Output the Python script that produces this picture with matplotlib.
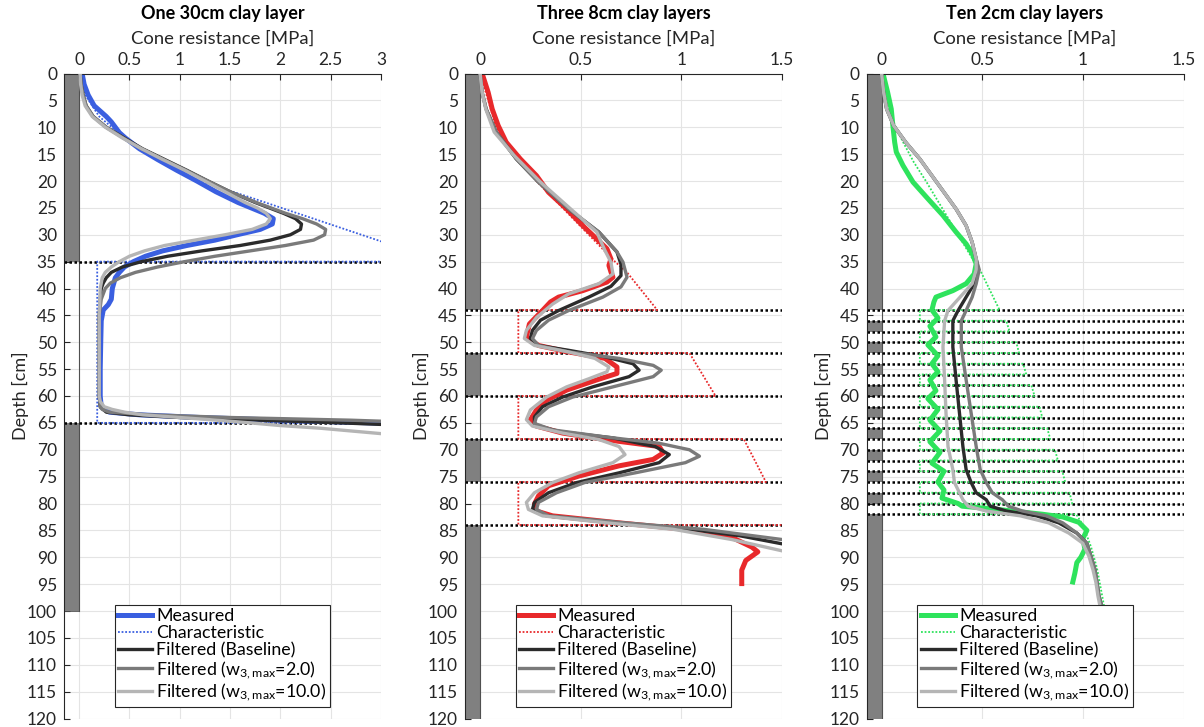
import matplotlib
matplotlib.use('Agg')
import matplotlib.pyplot as plt
from matplotlib.patches import Rectangle

plt.rcParams['font.family'] = ['Lato', 'DejaVu Sans']
plt.rcParams['mathtext.fontset'] = 'custom'
plt.rcParams['mathtext.rm'] = 'Lato'

# ---------------- data ----------------
TITLES = ['One 30cm clay layer', 'Three 8cm clay layers', 'Ten 2cm clay layers']
XLABEL = 'Cone resistance [MPa]'
YLABEL = 'Depth [cm]'
LEGEND_LABELS = ['Measured', 'Characteristic', 'Filtered (Baseline)',
                 r'Filtered ($\mathregular{w_{3,max}}$=2.0)',
                 r'Filtered ($\mathregular{w_{3,max}}$=10.0)']
DEPTH_TICKS = list(range(0, 121, 5))

# panel 1: one 30 cm clay layer
A_XTICKS = [0, 0.5, 1, 1.5, 2, 2.5, 3]
A_XTICKLABELS = ['0', '0.5', '1', '1.5', '2', '2.5', '3']
A_SAND = [(0, 35), (65, 100)]
A_COLUMN_BOTTOM = 100
A_BOUNDS = [35, 65]
A_MEAS_D = [0, 2, 4, 6, 8, 9, 10, 11, 12, 14, 16, 18, 20, 22, 24, 25, 26, 27, 28, 29, 30, 31, 32, 33,
            34, 35, 36, 37, 38, 40, 42, 43, 44, 46, 50, 55, 60, 62, 63, 63.5, 64, 64.5, 65, 65.5]
A_MEAS_Q = [0.03, 0.05, 0.09, 0.15, 0.27, 0.32, 0.36, 0.4, 0.46, 0.6, 0.78, 0.97, 1.17, 1.36, 1.58, 1.71,
            1.84, 1.93, 1.92, 1.8, 1.57, 1.35, 1.07, 0.83, 0.66, 0.54, 0.45, 0.4, 0.36, 0.33, 0.32, 0.29,
            0.24, 0.22, 0.215, 0.21, 0.21, 0.22, 0.3, 0.6, 1.2, 2.0, 2.9, 3.5]
A_CHAR_D = [0, 4, 8, 12, 16, 20, 23.3, 35, 35, 65, 65]
A_CHAR_Q = [0.02, 0.06, 0.2, 0.45, 0.8, 1.2, 1.74, 3.6, 0.18, 0.18, 3.6]
A_BASE_D = [0, 2, 4, 6, 8, 10, 12, 14, 16, 18, 20, 22, 24, 26, 27, 28, 29, 30, 31, 32, 33, 34, 35, 36,
            37, 38, 39, 40, 42, 45, 50, 55, 60, 62, 63, 63.5, 64, 64.5, 65, 65.5]
A_BASE_Q = [0.01, 0.02, 0.04, 0.07, 0.14, 0.27, 0.45, 0.63, 0.85, 1.07, 1.28, 1.5, 1.75, 2.03, 2.15,
            2.21, 2.2, 2.1, 1.9, 1.6, 1.22, 0.88, 0.62, 0.43, 0.32, 0.27, 0.24, 0.22, 0.21, 0.2, 0.2,
            0.2, 0.2, 0.21, 0.27, 0.5, 1.0, 1.8, 2.6, 3.3]
A_W2_D = [0, 2, 4, 6, 8, 10, 12, 14, 16, 18, 20, 22, 24, 26, 27, 28, 29, 30, 31, 32, 33, 34, 35, 36,
          37, 38, 39, 40, 42, 45, 50, 55, 60, 62, 62.5, 63, 63.5, 64, 64.5, 65]
A_W2_Q = [0.01, 0.02, 0.04, 0.07, 0.14, 0.27, 0.44, 0.62, 0.84, 1.06, 1.28, 1.5, 1.76, 2.05, 2.22,
          2.36, 2.45, 2.44, 2.33, 2.05, 1.7, 1.35, 1.05, 0.78, 0.56, 0.41, 0.31, 0.26, 0.22, 0.2,
          0.2, 0.2, 0.2, 0.21, 0.23, 0.3, 0.7, 1.5, 2.7, 3.5]
A_W10_D = [0, 2, 4, 6, 8, 10, 12, 14, 16, 18, 20, 22, 24, 25, 26, 27, 28, 29, 30, 31, 32, 33, 34, 35,
           36, 37, 38, 40, 45, 50, 55, 60, 61, 62, 62.5, 63, 63.5, 64, 64.5, 65, 65.5, 66, 66.5, 67, 67.5]
A_W10_Q = [0.01, 0.015, 0.03, 0.06, 0.13, 0.26, 0.43, 0.62, 0.83, 1.05, 1.25, 1.45, 1.65, 1.77, 1.86,
           1.9, 1.86, 1.72, 1.45, 1.15, 0.85, 0.65, 0.5, 0.4, 0.32, 0.26, 0.23, 0.21, 0.2, 0.2, 0.2,
           0.2, 0.21, 0.25, 0.33, 0.45, 0.63, 1.0, 1.37, 1.7, 2.0, 2.4, 2.7, 3.0, 3.3]

# panel 2: three 8 cm clay layers
B_XTICKS = [0, 0.5, 1, 1.5]
B_XTICKLABELS = ['0', '0.5', '1', '1.5']
B_SAND = [(0, 44), (52, 60), (68, 76), (84, 120)]
B_COLUMN_BOTTOM = 120
B_BOUNDS = [44, 52, 60, 68, 76, 84]
B_MEAS_D = [0, 3.5, 6.6, 9.7, 12.8, 15.9, 19, 22.1, 25.2, 28.3, 30.8, 32.6, 34.5, 35.7, 36.9, 37.9, 38.8,
            40.4, 41.6, 42.5, 44.1, 46.6, 49, 50.6, 51.8, 53, 54.6, 55.8, 57, 58.9, 60.8, 62.6, 64.4,
            65.6, 66.9, 68.1, 69.4, 70.6, 71.8, 73, 74.9, 76.7, 78.6, 80.1, 81.4, 82.3, 83.6, 84.8,
            86.3, 88.1, 89, 90.6, 92.4, 94.9]
B_MEAS_Q = [0.01, 0.04, 0.06, 0.09, 0.13, 0.2, 0.28, 0.34, 0.43, 0.51, 0.58, 0.63, 0.65, 0.64, 0.65,
            0.66, 0.63, 0.51, 0.39, 0.35, 0.31, 0.245, 0.23, 0.29, 0.44, 0.62, 0.68, 0.68, 0.58, 0.43,
            0.33, 0.28, 0.25, 0.28, 0.41, 0.62, 0.89, 0.91, 0.86, 0.69, 0.49, 0.34, 0.29, 0.27, 0.28,
            0.36, 0.69, 1.02, 1.25, 1.35, 1.38, 1.32, 1.30, 1.30]
B_CHAR_D = [0, 10, 15, 20, 25, 30, 35, 37, 44, 44, 52, 52, 60, 60, 68, 68, 76, 76, 84, 84, 100]
B_CHAR_Q = [0.0, 0.08, 0.17, 0.28, 0.41, 0.54, 0.67, 0.73, 0.88, 0.19, 0.19, 1.04, 1.17, 0.19, 0.19,
            1.31, 1.42, 0.19, 0.19, 1.6, 1.8]
B_BASE_D = [0, 3.5, 6.6, 10.9, 15.9, 20.2, 25.2, 29.5, 33.2, 35.5, 37.6, 39.6, 41.6, 44.1, 45.9, 47.8,
            49.3, 50.6, 51.5, 52.7, 54.0, 55.2, 56.4, 58.3, 60.2, 62.0, 63.9, 65.4, 66.6, 67.8, 69.4,
            70.9, 72.4, 74.3, 76.1, 78.0, 79.8, 81.1, 82.3, 83.6, 84.8, 86.0, 87.5, 88.5]
B_BASE_Q = [0.0, 0.01, 0.03, 0.08, 0.18, 0.29, 0.44, 0.59, 0.68, 0.70, 0.70, 0.65, 0.54, 0.39, 0.30,
            0.26, 0.25, 0.29, 0.44, 0.62, 0.76, 0.79, 0.74, 0.56, 0.41, 0.31, 0.27, 0.27, 0.39, 0.66,
            0.87, 0.94, 0.89, 0.69, 0.48, 0.34, 0.27, 0.26, 0.33, 0.69, 1.04, 1.29, 1.5, 1.62]
B_W2_D = [0, 3.5, 6.6, 10.9, 15.9, 20.2, 25.2, 29.5, 33.2, 35.1, 37.9, 39.7, 41.6, 44.1, 45.9, 47.8,
          49.3, 50.6, 51.8, 53.0, 54.3, 55.2, 56.4, 58.3, 60.2, 62.0, 63.9, 65.1, 66.3, 67.6, 68.8,
          70.0, 71.2, 72.4, 74.3, 76.1, 78.0, 79.8, 81.1, 82.3, 83.6, 84.8, 86.7, 88]
B_W2_Q = [0.0, 0.01, 0.03, 0.08, 0.18, 0.29, 0.44, 0.59, 0.68, 0.71, 0.73, 0.70, 0.61, 0.44, 0.34,
          0.28, 0.26, 0.29, 0.44, 0.69, 0.86, 0.90, 0.86, 0.66, 0.46, 0.34, 0.28, 0.27, 0.36, 0.62,
          0.89, 1.04, 1.09, 1.02, 0.77, 0.52, 0.38, 0.29, 0.28, 0.34, 0.72, 1.11, 1.5, 1.65]
B_W10_D = [0, 3.5, 6.6, 10.9, 15.3, 20.2, 25.2, 29.5, 32.9, 35.1, 37.3, 39.1, 41.0, 42.9, 45.4, 47.8,
           49.3, 50.6, 51.8, 53.0, 54.6, 55.5, 56.8, 58.3, 60.2, 62.6, 64.4, 65.6, 66.9, 68.1, 69.4,
           70.9, 72.4, 74.3, 76.1, 78.0, 79.8, 81.1, 82.3, 83.6, 84.8, 86.7, 88.8, 90]
B_W10_Q = [0.0, 0.01, 0.028, 0.07, 0.17, 0.30, 0.45, 0.58, 0.62, 0.65, 0.66, 0.59, 0.44, 0.36, 0.28,
           0.23, 0.22, 0.27, 0.44, 0.57, 0.64, 0.63, 0.54, 0.43, 0.33, 0.25, 0.23, 0.26, 0.41, 0.59,
           0.69, 0.72, 0.66, 0.49, 0.36, 0.27, 0.23, 0.24, 0.31, 0.63, 0.96, 1.25, 1.5, 1.6]

# panel 3: ten 2 cm clay layers
C_XTICKS = [0, 0.5, 1, 1.5]
C_XTICKLABELS = ['0', '0.5', '1', '1.5']
C_SAND = [(0, 44), (46, 48), (50, 52), (54, 56), (58, 60), (62, 64), (66, 68), (70, 72), (74, 76),
          (78, 80), (82, 120)]
C_COLUMN_BOTTOM = 120
C_BOUNDS = [44, 46, 48, 50, 52, 54, 56, 58, 60, 62, 64, 66, 68, 70, 72, 74, 76, 78, 80, 82]
C_MEAS_D = [0, 3.5, 6.6, 9.7, 12.8, 14.6, 17.1, 20.2, 23.3, 26.4, 29.5, 31.7, 33.5, 35.4, 37.3, 39.1,
            40.4, 41.6, 42.5, 44, 45.5, 47, 49, 50.5, 52.5, 54, 55.5, 57, 59, 60.5, 62.5, 64.5, 66.5,
            68.5, 70.5, 72.5, 74, 76, 77.5, 79, 80, 80.5, 81, 82, 82.5, 83.5, 85, 86.5, 88.5, 90, 91,
            93, 94.6]
C_MEAS_Q = [0.007, 0.03, 0.048, 0.056, 0.065, 0.073, 0.106, 0.156, 0.23, 0.305, 0.37, 0.42, 0.45, 0.47,
            0.46, 0.42, 0.354, 0.27, 0.26, 0.25, 0.28, 0.24, 0.27, 0.23, 0.28, 0.25, 0.28, 0.24, 0.27,
            0.23, 0.28, 0.24, 0.29, 0.24, 0.29, 0.25, 0.31, 0.28, 0.31, 0.30, 0.38, 0.4, 0.55, 0.8,
            0.9, 0.98, 1.02, 1.0, 1.01, 0.99, 0.97, 0.96, 0.95]
C_CHAR_D = [0, 3, 6, 10, 13, 16.5, 20, 25, 30, 35, 37, 44, 44, 46, 46, 48, 48, 50, 50, 52, 52, 54, 54,
            56, 56, 58, 58, 60, 60, 62, 62, 64, 64, 66, 66, 68, 68, 70, 70, 72, 72, 74, 74, 76, 76, 78,
            78, 80, 80, 82, 82, 84, 88, 92, 96, 100]
C_CHAR_Q = [0.0, 0.01, 0.03, 0.07, 0.11, 0.16, 0.22, 0.30, 0.38, 0.46, 0.495, 0.586, 0.19, 0.19, 0.619,
            0.636, 0.19, 0.19, 0.669, 0.683, 0.19, 0.19, 0.703, 0.719, 0.19, 0.19, 0.744, 0.76, 0.19,
            0.19, 0.785, 0.798, 0.19, 0.19, 0.823, 0.838, 0.19, 0.19, 0.861, 0.876, 0.19, 0.19, 0.898,
            0.912, 0.19, 0.19, 0.934, 0.947, 0.19, 0.19, 0.967, 1.0, 1.04, 1.07, 1.09, 1.11]
C_BASE_D = [0, 3.5, 6.6, 9.7, 12.8, 15.9, 19.0, 22.1, 25.2, 28.3, 31.4, 34.5, 36.5, 39.1, 41.6, 44.1,
            46.0, 50.9, 57.0, 63.2, 69.4, 73.7, 76.1, 78.0, 79.3, 80.5, 81.4, 82.3, 83.6, 85.5, 87.4,
            89.8, 92.3, 94.7, 97.2, 100]
C_BASE_Q = [0.0, 0.01, 0.025, 0.06, 0.12, 0.19, 0.25, 0.31, 0.37, 0.42, 0.45, 0.47, 0.48, 0.46, 0.42,
            0.38, 0.354, 0.354, 0.37, 0.387, 0.404, 0.42, 0.445, 0.47, 0.52, 0.54, 0.62, 0.77, 0.88,
            0.97, 1.02, 1.04, 1.06, 1.07, 1.08, 1.1]
C_W2_D = [0, 3.5, 6.6, 9.7, 12.8, 15.9, 19.0, 22.1, 25.2, 28.3, 31.4, 34.5, 36.5, 39.1, 41.6, 44.1,
          46.0, 50.9, 57.0, 63.2, 69.4, 73.7, 76.1, 78.0, 79.3, 80.5, 81.4, 82.3, 83.6, 85.5, 87.4,
          89.8, 92.3, 94.7, 97.2, 100]
C_W2_Q = [0.0, 0.01, 0.025, 0.06, 0.12, 0.19, 0.25, 0.31, 0.37, 0.42, 0.45, 0.47, 0.485, 0.47, 0.45,
          0.42, 0.396, 0.396, 0.42, 0.445, 0.47, 0.49, 0.52, 0.55, 0.6, 0.63, 0.70, 0.82, 0.90, 0.97,
          1.02, 1.04, 1.06, 1.07, 1.08, 1.1]
C_W10_D = [0, 3.5, 6.6, 9.7, 12.8, 15.9, 19.0, 22.1, 25.2, 28.3, 31.4, 34.5, 36.5, 39.1, 41.6, 44.1,
           46.0, 50.9, 57.0, 63.2, 69.4, 73.7, 76.1, 78.0, 79.3, 80.5, 81.4, 82.3, 83.6, 85.5, 87.4,
           89.8, 92.3, 94.7, 97.2, 100]
C_W10_Q = [0.0, 0.01, 0.025, 0.06, 0.12, 0.19, 0.25, 0.31, 0.37, 0.42, 0.45, 0.47, 0.47, 0.45, 0.39,
           0.33, 0.313, 0.305, 0.313, 0.32, 0.33, 0.354, 0.362, 0.387, 0.404, 0.43, 0.52, 0.69, 0.83,
           0.93, 1.0, 1.03, 1.05, 1.065, 1.075, 1.09]

# ---------------- styling ----------------
MEAS_COLORS = ['#3a5fe0', '#e8292b', '#2ee35c']
BASE_COLOR = '#2b2b2b'
W2_COLOR = '#7a7a7a'
W10_COLOR = '#b5b5b5'
SAND_COLOR = '#808080'
TEXT_COLOR = '#262626'

panels = [
    dict(title=TITLES[0], xlim=(-0.15, 3.0), xticks=A_XTICKS, xtl=A_XTICKLABELS, sand=A_SAND,
         colbot=A_COLUMN_BOTTOM, bounds=A_BOUNDS, meas=(A_MEAS_D, A_MEAS_Q), char=(A_CHAR_D, A_CHAR_Q),
         base=(A_BASE_D, A_BASE_Q), w2=(A_W2_D, A_W2_Q), w10=(A_W10_D, A_W10_Q), left=64),
    dict(title=TITLES[1], xlim=(-0.075, 1.5), xticks=B_XTICKS, xtl=B_XTICKLABELS, sand=B_SAND,
         colbot=B_COLUMN_BOTTOM, bounds=B_BOUNDS, meas=(B_MEAS_D, B_MEAS_Q), char=(B_CHAR_D, B_CHAR_Q),
         base=(B_BASE_D, B_BASE_Q), w2=(B_W2_D, B_W2_Q), w10=(B_W10_D, B_W10_Q), left=465),
    dict(title=TITLES[2], xlim=(-0.075, 1.5), xticks=C_XTICKS, xtl=C_XTICKLABELS, sand=C_SAND,
         colbot=C_COLUMN_BOTTOM, bounds=C_BOUNDS, meas=(C_MEAS_D, C_MEAS_Q), char=(C_CHAR_D, C_CHAR_Q),
         base=(C_BASE_D, C_BASE_Q), w2=(C_W2_D, C_W2_Q), w10=(C_W10_D, C_W10_Q), left=866.5),
]

W, H = 1204, 727
AX_TOP = 73.5
AX_H = 645
fig = plt.figure(figsize=(W / 100, H / 100), dpi=100)

for i, p in enumerate(panels):
    ax = fig.add_axes([p['left'] / W, 1 - (AX_TOP + AX_H) / H, 317 / W, AX_H / H])
    x0, x1 = p['xlim']
    ax.set_xlim(x0, x1)
    ax.set_ylim(120, 0)
    ax.xaxis.tick_top()
    ax.set_xticks(p['xticks'])
    ax.set_xticklabels(p['xtl'])
    ax.set_yticks(DEPTH_TICKS)
    ax.grid(True, color='#e4e4e4', lw=0.8)
    ax.set_axisbelow(True)
    ax.tick_params(direction='in', length=4, width=0.8, colors=TEXT_COLOR, labelsize=12.5)
    ax.tick_params(axis='x', pad=4)
    ax.tick_params(axis='y', pad=5)
    for s in ['right', 'bottom']:
        ax.spines[s].set_visible(False)
    for s in ['top', 'left']:
        ax.spines[s].set_color(TEXT_COLOR)
        ax.spines[s].set_linewidth(0.8)

    # soil column
    for (a, b) in p['sand']:
        ax.add_patch(Rectangle((x0, a), -x0, b - a, facecolor=SAND_COLOR, edgecolor='none',
                               zorder=1.5, clip_on=False))
    ax.plot([0, 0], [0, p['colbot']], color='#505050', lw=0.8, zorder=1.6)
    ax.plot([x0, 0], [p['colbot'], p['colbot']], color='#505050', lw=0.6, zorder=1.6)

    # layer boundaries
    for b in p['bounds']:
        ax.plot([x0, x1], [b, b], color='black', lw=1.8, ls=(0, (1, 1)), zorder=2.0)

    c = MEAS_COLORS[i]
    hm, = ax.plot(p['meas'][1], p['meas'][0], color=c, lw=3.6, zorder=2.4, solid_joinstyle='round')
    hc, = ax.plot(p['char'][1], p['char'][0], color=c, lw=1.3, ls=(0, (1, 1)), zorder=2.6)
    hb, = ax.plot(p['base'][1], p['base'][0], color=BASE_COLOR, lw=2.4, zorder=3.0)
    h2, = ax.plot(p['w2'][1], p['w2'][0], color=W2_COLOR, lw=2.4, zorder=3.1)
    h10, = ax.plot(p['w10'][1], p['w10'][0], color=W10_COLOR, lw=2.4, zorder=3.2)

    ax.text(0.5, 1 + (AX_TOP - 14) / AX_H, p['title'], transform=ax.transAxes, ha='center',
            va='center', fontsize=13, fontweight='bold', color='black')
    ax.text(0.5, 1 + (AX_TOP - 39) / AX_H, XLABEL, transform=ax.transAxes, ha='center',
            va='center', fontsize=13.3, color=TEXT_COLOR)
    ax.set_ylabel(YLABEL, fontsize=13, color=TEXT_COLOR, labelpad=-1.5)

    leg = ax.legend([hm, hc, hb, h2, h10], LEGEND_LABELS, loc='lower center',
                    bbox_to_anchor=(0.5, 0.018), fontsize=12.8, frameon=True, fancybox=False,
                    framealpha=1, edgecolor=TEXT_COLOR, handlelength=1.9, handletextpad=0.25,
                    labelspacing=0.05, borderpad=0.2, borderaxespad=0)
    leg.get_frame().set_linewidth(0.8)
    leg.set_zorder(10)

fig.savefig('out.png', dpi=100)
